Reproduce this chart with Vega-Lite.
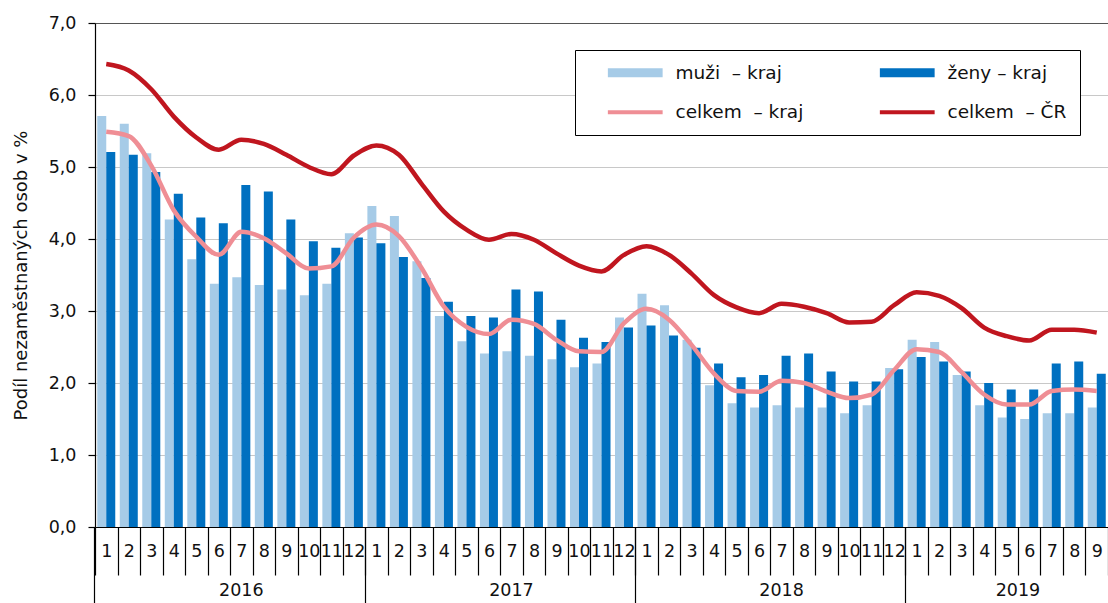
{
  "$schema": "https://vega.github.io/schema/vega-lite/v6.json",
  "width": 1013,
  "height": 504,
  "autosize": {"type": "none"},
  "padding": {"left": 95, "top": 23, "right": 0, "bottom": 76},
  "background": "white",
  "config": {"font": "DejaVu Sans", "view": {"stroke": null}},
  "data": {"values": [
    {"i":0,"s":"M","v":5.71},{"i":1,"s":"M","v":5.60},{"i":2,"s":"M","v":5.19},{"i":3,"s":"M","v":4.27},{"i":4,"s":"M","v":3.72},{"i":5,"s":"M","v":3.38},{"i":6,"s":"M","v":3.47},{"i":7,"s":"M","v":3.36},{"i":8,"s":"M","v":3.30},{"i":9,"s":"M","v":3.22},{"i":10,"s":"M","v":3.38},{"i":11,"s":"M","v":4.08},
    {"i":12,"s":"M","v":4.46},{"i":13,"s":"M","v":4.32},{"i":14,"s":"M","v":3.69},{"i":15,"s":"M","v":2.93},{"i":16,"s":"M","v":2.58},{"i":17,"s":"M","v":2.41},{"i":18,"s":"M","v":2.44},{"i":19,"s":"M","v":2.38},{"i":20,"s":"M","v":2.33},{"i":21,"s":"M","v":2.22},{"i":22,"s":"M","v":2.27},{"i":23,"s":"M","v":2.91},
    {"i":24,"s":"M","v":3.24},{"i":25,"s":"M","v":3.08},{"i":26,"s":"M","v":2.60},{"i":27,"s":"M","v":1.97},{"i":28,"s":"M","v":1.72},{"i":29,"s":"M","v":1.66},{"i":30,"s":"M","v":1.69},{"i":31,"s":"M","v":1.66},{"i":32,"s":"M","v":1.66},{"i":33,"s":"M","v":1.58},{"i":34,"s":"M","v":1.69},{"i":35,"s":"M","v":2.21},
    {"i":36,"s":"M","v":2.60},{"i":37,"s":"M","v":2.57},{"i":38,"s":"M","v":2.11},{"i":39,"s":"M","v":1.69},{"i":40,"s":"M","v":1.52},{"i":41,"s":"M","v":1.50},{"i":42,"s":"M","v":1.58},{"i":43,"s":"M","v":1.58},{"i":44,"s":"M","v":1.66},
    {"i":0,"s":"Z","v":5.21},{"i":1,"s":"Z","v":5.17},{"i":2,"s":"Z","v":4.93},{"i":3,"s":"Z","v":4.63},{"i":4,"s":"Z","v":4.30},{"i":5,"s":"Z","v":4.22},{"i":6,"s":"Z","v":4.75},{"i":7,"s":"Z","v":4.66},{"i":8,"s":"Z","v":4.27},{"i":9,"s":"Z","v":3.97},{"i":10,"s":"Z","v":3.88},{"i":11,"s":"Z","v":4.02},
    {"i":12,"s":"Z","v":3.94},{"i":13,"s":"Z","v":3.75},{"i":14,"s":"Z","v":3.46},{"i":15,"s":"Z","v":3.13},{"i":16,"s":"Z","v":2.93},{"i":17,"s":"Z","v":2.91},{"i":18,"s":"Z","v":3.30},{"i":19,"s":"Z","v":3.27},{"i":20,"s":"Z","v":2.88},{"i":21,"s":"Z","v":2.63},{"i":22,"s":"Z","v":2.57},{"i":23,"s":"Z","v":2.77},
    {"i":24,"s":"Z","v":2.80},{"i":25,"s":"Z","v":2.66},{"i":26,"s":"Z","v":2.49},{"i":27,"s":"Z","v":2.27},{"i":28,"s":"Z","v":2.08},{"i":29,"s":"Z","v":2.11},{"i":30,"s":"Z","v":2.38},{"i":31,"s":"Z","v":2.41},{"i":32,"s":"Z","v":2.16},{"i":33,"s":"Z","v":2.02},{"i":34,"s":"Z","v":2.02},{"i":35,"s":"Z","v":2.19},
    {"i":36,"s":"Z","v":2.36},{"i":37,"s":"Z","v":2.30},{"i":38,"s":"Z","v":2.16},{"i":39,"s":"Z","v":2.00},{"i":40,"s":"Z","v":1.91},{"i":41,"s":"Z","v":1.91},{"i":42,"s":"Z","v":2.27},{"i":43,"s":"Z","v":2.30},{"i":44,"s":"Z","v":2.13},
    {"i":0,"s":"K","v":5.49},{"i":1,"s":"K","v":5.43},{"i":2,"s":"K","v":5.02},{"i":3,"s":"K","v":4.40},{"i":4,"s":"K","v":4.03},{"i":5,"s":"K","v":3.78},{"i":6,"s":"K","v":4.10},{"i":7,"s":"K","v":4.01},{"i":8,"s":"K","v":3.80},{"i":9,"s":"K","v":3.59},{"i":10,"s":"K","v":3.62},{"i":11,"s":"K","v":4.02},
    {"i":12,"s":"K","v":4.20},{"i":13,"s":"K","v":4.04},{"i":14,"s":"K","v":3.60},{"i":15,"s":"K","v":3.06},{"i":16,"s":"K","v":2.78},{"i":17,"s":"K","v":2.68},{"i":18,"s":"K","v":2.88},{"i":19,"s":"K","v":2.82},{"i":20,"s":"K","v":2.60},{"i":21,"s":"K","v":2.44},{"i":22,"s":"K","v":2.43},{"i":23,"s":"K","v":2.83},
    {"i":24,"s":"K","v":3.03},{"i":25,"s":"K","v":2.88},{"i":26,"s":"K","v":2.53},{"i":27,"s":"K","v":2.13},{"i":28,"s":"K","v":1.89},{"i":29,"s":"K","v":1.88},{"i":30,"s":"K","v":2.03},{"i":31,"s":"K","v":2.00},{"i":32,"s":"K","v":1.88},{"i":33,"s":"K","v":1.79},{"i":34,"s":"K","v":1.84},{"i":35,"s":"K","v":2.18},
    {"i":36,"s":"K","v":2.47},{"i":37,"s":"K","v":2.43},{"i":38,"s":"K","v":2.15},{"i":39,"s":"K","v":1.84},{"i":40,"s":"K","v":1.70},{"i":41,"s":"K","v":1.70},{"i":42,"s":"K","v":1.89},{"i":43,"s":"K","v":1.91},{"i":44,"s":"K","v":1.89},
    {"i":0,"s":"C","v":6.43},{"i":1,"s":"C","v":6.34},{"i":2,"s":"C","v":6.08},{"i":3,"s":"C","v":5.70},{"i":4,"s":"C","v":5.41},{"i":5,"s":"C","v":5.24},{"i":6,"s":"C","v":5.38},{"i":7,"s":"C","v":5.32},{"i":8,"s":"C","v":5.17},{"i":9,"s":"C","v":5.00},{"i":10,"s":"C","v":4.90},{"i":11,"s":"C","v":5.16},
    {"i":12,"s":"C","v":5.30},{"i":13,"s":"C","v":5.17},{"i":14,"s":"C","v":4.77},{"i":15,"s":"C","v":4.38},{"i":16,"s":"C","v":4.13},{"i":17,"s":"C","v":3.99},{"i":18,"s":"C","v":4.07},{"i":19,"s":"C","v":3.99},{"i":20,"s":"C","v":3.80},{"i":21,"s":"C","v":3.63},{"i":22,"s":"C","v":3.55},{"i":23,"s":"C","v":3.78},
    {"i":24,"s":"C","v":3.90},{"i":25,"s":"C","v":3.78},{"i":26,"s":"C","v":3.52},{"i":27,"s":"C","v":3.22},{"i":28,"s":"C","v":3.05},{"i":29,"s":"C","v":2.97},{"i":30,"s":"C","v":3.10},{"i":31,"s":"C","v":3.06},{"i":32,"s":"C","v":2.97},{"i":33,"s":"C","v":2.84},{"i":34,"s":"C","v":2.85},{"i":35,"s":"C","v":3.08},
    {"i":36,"s":"C","v":3.26},{"i":37,"s":"C","v":3.21},{"i":38,"s":"C","v":3.04},{"i":39,"s":"C","v":2.77},{"i":40,"s":"C","v":2.65},{"i":41,"s":"C","v":2.59},{"i":42,"s":"C","v":2.74},{"i":43,"s":"C","v":2.74},{"i":44,"s":"C","v":2.70}
  ]},
  "layer": [
    {
      "transform": [{"filter": "datum.s == 'M' || datum.s == 'Z'"}],
      "mark": {"type": "bar"},
      "encoding": {
        "x": {
          "field": "i", "type": "ordinal",
          "scale": {"paddingInner": 0, "paddingOuter": 0},
          "axis": {
            "orient": "bottom", "title": null, "grid": false,
            "tickBand": "extent", "tickSize": 48, "tickColor": "black", "tickWidth": 1.2,
            "domainColor": "black", "domainWidth": 1.2,
            "labelAngle": 0, "labelPadding": -33, "labelFontSize": 17.5, "labelColor": "#111",
            "labelOverlap": false, "labelBound": false, "labelFlush": false,
            "labelExpr": "(datum.value == null || isNaN(datum.value)) ? '' : '' + ((datum.value % 12) + 1)"
          }
        },
        "xOffset": {"field": "s", "type": "nominal", "scale": {"domain": ["M", "Z"], "paddingOuter": 0.25, "paddingInner": 0}},
        "y": {
          "field": "v", "type": "quantitative",
          "scale": {"domain": [0, 7], "nice": false},
          "axis": {
            "values": [0, 1, 2, 3, 4, 5, 6, 7],
            "labelExpr": "replace(format(datum.value, '.1f'), '.', ',')",
            "grid": true,
            "gridColor": {"condition": {"test": "datum.value == 7", "value": "#555555"}, "value": "#c8c8c8"},
            "gridWidth": 1.2,
            "domainColor": "black", "domainWidth": 1.2,
            "tickColor": "black", "tickSize": 7, "tickWidth": 1.2,
            "labelFontSize": 17.5, "labelPadding": 12, "labelColor": "#111",
            "title": "Podíl nezaměstnaných osob v %", "titleFontSize": 18, "titleFontWeight": "normal", "titleColor": "#111", "titlePadding": 18
          }
        },
        "color": {
          "field": "s", "type": "nominal",
          "scale": {"domain": ["M", "Z", "K", "C"], "range": ["#a6cbe7", "#0070c0", "#ef8e95", "#c0161f"]},
          "legend": {
            "orient": "none", "legendX": 480, "legendY": 27,
            "title": null, "columns": 2, "direction": "horizontal",
            "symbolType": "stroke", "symbolSize": 3000, "symbolStrokeWidth": 4, "symbolOffset": 38,
            "labelFontSize": 18.5, "labelColor": "#111", "labelOffset": 31, "labelLimit": 300,
            "labelExpr": "datum.value == 'M' ? 'muži\u00a0 – kraj' : datum.value == 'Z' ? 'ženy – kraj' : datum.value == 'K' ? 'celkem\u00a0 – kraj' : 'celkem\u00a0 – ČR'",
            "columnPadding": 56, "rowPadding": 12, "padding": 13,
            "strokeColor": "black", "fillColor": "white",
            "encode": {
              "symbols": {
                "update": {
                  "stroke": {"scale": "color", "field": "value"},
                  "fill": {"value": "transparent"},
                  "strokeWidth": {"signal": "datum.value == 'M' || datum.value == 'Z' ? 9 : 4"}
                }
              }
            }
          }
        }
      }
    },
    {
      "transform": [{"filter": "datum.s == 'K' || datum.s == 'C'"}],
      "mark": {"type": "line", "strokeWidth": 4.5, "interpolate": "monotone"},
      "encoding": {
        "x": {
          "field": "i", "type": "ordinal",
          "scale": {"paddingInner": 0, "paddingOuter": 0},
          "axis": {
            "orient": "bottom", "title": null, "grid": false, "domain": false,
            "bandPosition": 0, "tickSize": 76, "tickColor": "black", "tickWidth": 1.2,
            "tickOpacity": {"condition": {"test": "datum.value % 12 == 0", "value": 1}, "value": 0},
            "labelAngle": 0, "labelPadding": -22, "labelFontSize": 17.5, "labelColor": "#111",
            "labelOverlap": false, "labelBound": false, "labelFlush": false,
            "labelOffset": {"condition": {"test": "datum.value == 40", "value": 11.25}, "value": 0},
            "labelExpr": "datum.value == 6 ? '2016' : datum.value == 18 ? '2017' : datum.value == 30 ? '2018' : datum.value == 40 ? '2019' : ''"
          }
        },
        "y": {"field": "v", "type": "quantitative", "scale": {"domain": [0, 7], "nice": false}},
        "color": {"field": "s", "type": "nominal", "scale": {"domain": ["M", "Z", "K", "C"], "range": ["#a6cbe7", "#0070c0", "#ef8e95", "#c0161f"]}}
      }
    }
  ],
  "resolve": {"axis": {"x": "independent"}}
}
